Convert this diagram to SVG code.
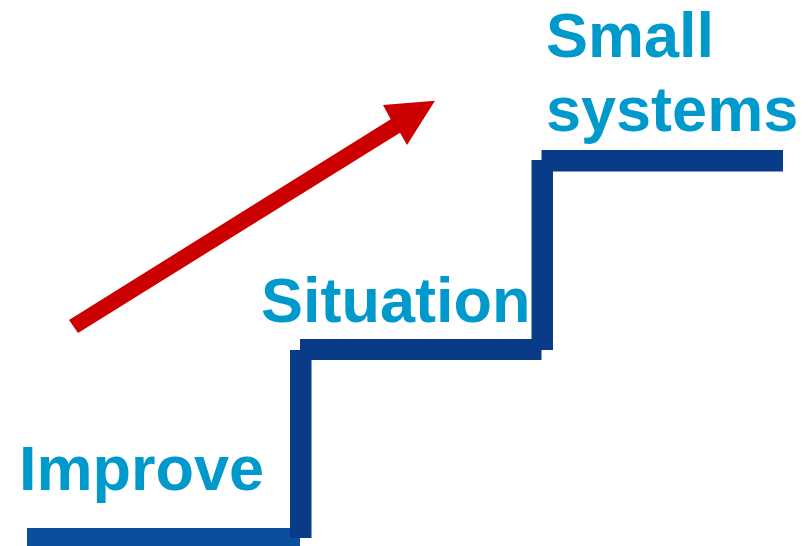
<svg xmlns="http://www.w3.org/2000/svg" width="812" height="546" viewBox="0 0 812 546">
<style>
.lbl{font-family:"Liberation Sans",Arial,sans-serif;font-weight:bold;font-size:63px;fill:#0099cc}
.step{fill:#083c88}
</style>
<rect width="812" height="546" fill="#ffffff"/>
<g id="stairs">
<rect x="27" y="528" width="273" height="21" style="fill:#0a4f9e"/>
<rect class="step" x="290" y="350" width="21.5" height="188"/>
<rect class="step" x="300" y="339" width="241.5" height="21"/>
<rect class="step" x="531.5" y="160" width="21.5" height="190"/>
<rect class="step" x="541.5" y="150" width="241.5" height="21.5"/>
</g>
<g id="node-improve"><text class="lbl" x="19" y="490">Improve</text></g>
<g id="node-situation"><text class="lbl" x="261" y="322">Situation</text></g>
<g id="node-small-systems"><text class="lbl" x="546" y="57">Small</text><text class="lbl" x="546" y="131">systems</text></g>
<g id="connectors">
<path d="M69,320 L78,333 L400,132.7 L407,145 L435,100.7 L383,105 L390.7,119.3 Z" fill="#cc0000"/>
</g>
</svg>
